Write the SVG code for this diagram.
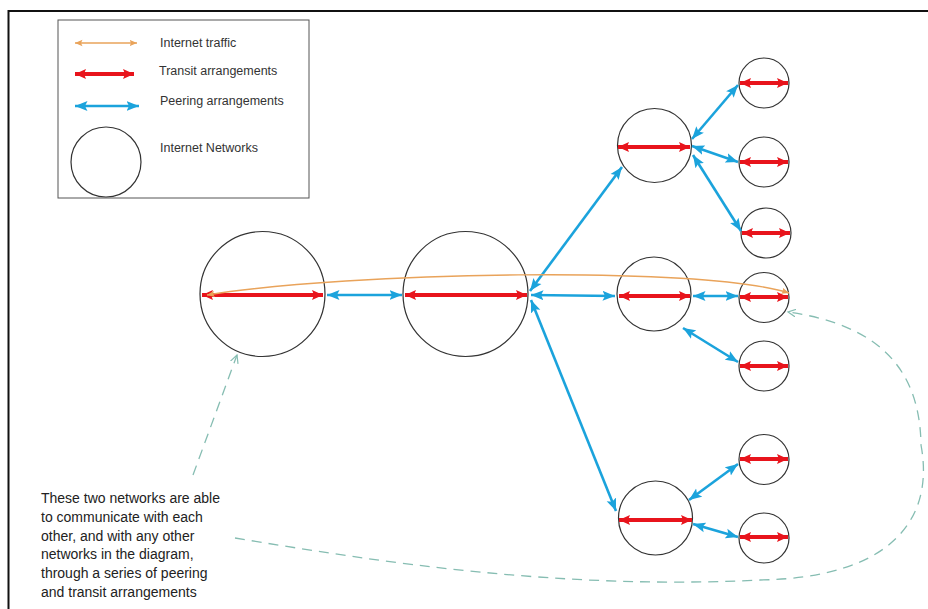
<svg xmlns="http://www.w3.org/2000/svg" width="928" height="609" viewBox="0 0 928 609">
<style>
.net{fill:#fff;stroke:#333;stroke-width:1.2}
.tr{stroke:#e8141c;stroke-width:4;fill:none;marker-start:url(#mr);marker-end:url(#mr)}
.pe{stroke:#1ba3dc;stroke-width:2.6;fill:none;marker-start:url(#mb);marker-end:url(#mb)}
.it{stroke:#e9a35a;stroke-width:1.4;fill:none;marker-start:url(#mo);marker-end:url(#mo)}
.dash{stroke:#86bdb2;stroke-width:1.3;fill:none;stroke-dasharray:10 7}
.lbl{font-family:"Liberation Sans",Arial,sans-serif;font-size:12.5px;fill:#333}
.note{font-family:"Liberation Sans",Arial,sans-serif;font-size:14px;fill:#222}
</style>
<defs>
<marker id="mr" markerUnits="userSpaceOnUse" markerWidth="12" markerHeight="12" viewBox="0 0 12 12" refX="11" refY="6" orient="auto-start-reverse"><path d="M0,1 L11,6 L0,11 L2,6 z" fill="#e8141c"/></marker>
<marker id="mb" markerUnits="userSpaceOnUse" markerWidth="13" markerHeight="11" viewBox="0 0 13 11" refX="12.5" refY="5.5" orient="auto-start-reverse"><path d="M0,0.5 L12.5,5.5 L0,10.5 L2.5,5.5 z" fill="#1ba3dc"/></marker>
<marker id="mo" markerUnits="userSpaceOnUse" markerWidth="8" markerHeight="8" viewBox="0 0 8 8" refX="7.5" refY="4" orient="auto-start-reverse"><path d="M0,0.8 L7.5,4 L0,7.2 L1.5,4 z" fill="#e9a35a"/></marker>
<marker id="mt" markerUnits="userSpaceOnUse" markerWidth="9" markerHeight="9" viewBox="0 0 9 9" refX="8" refY="4.5" orient="auto"><path d="M0,0.5 L8,4.5 L0,8.5" fill="none" stroke="#86bdb2" stroke-width="1.2"/></marker>
</defs>
<rect x="0" y="0" width="928" height="609" fill="#fff"/>
<rect x="8.5" y="11" width="1000" height="1000" fill="none" stroke="#111" stroke-width="2"/>

<g id="legend">
<rect x="58" y="20" width="251" height="178" fill="#fff" stroke="#555" stroke-width="1"/>
<line class="it" x1="75" y1="43" x2="137" y2="43"/>
<text class="lbl" x="160" y="47">Internet traffic</text>
<line class="tr" x1="75" y1="74" x2="134" y2="74"/>
<text class="lbl" x="159" y="75">Transit arrangements</text>
<line class="pe" x1="75" y1="106" x2="139" y2="106"/>
<text class="lbl" x="160" y="105">Peering arrangements</text>
<circle class="net" cx="106" cy="162" r="35"/>
<text class="lbl" x="160" y="152">Internet Networks</text>
</g>

<g id="netA"><circle class="net" cx="262.5" cy="294" r="62.5"/><line class="tr" x1="202" y1="295" x2="323" y2="295"/></g>
<g id="netB"><circle class="net" cx="465.5" cy="294" r="62.5"/><line class="tr" x1="405" y1="295" x2="527" y2="295"/></g>
<g id="netC1"><circle class="net" cx="654.5" cy="145.5" r="37"/><line class="tr" x1="618" y1="147" x2="690" y2="147"/></g>
<g id="netC2"><circle class="net" cx="654" cy="294" r="37"/><line class="tr" x1="619" y1="296" x2="690" y2="296"/></g>
<g id="netC3"><circle class="net" cx="655.5" cy="518" r="37"/><line class="tr" x1="619" y1="520" x2="692" y2="520"/></g>
<g id="netS1"><circle class="net" cx="764" cy="83" r="25"/><line class="tr" x1="740" y1="83" x2="788" y2="83"/></g>
<g id="netS2"><circle class="net" cx="764" cy="162" r="25"/><line class="tr" x1="740" y1="162" x2="788" y2="162"/></g>
<g id="netS3"><circle class="net" cx="766" cy="233" r="25"/><line class="tr" x1="742" y1="233" x2="790" y2="233"/></g>
<g id="netS4"><circle class="net" cx="764" cy="297.5" r="25"/><line class="tr" x1="740" y1="297" x2="788" y2="297"/></g>
<g id="netS5"><circle class="net" cx="764" cy="366" r="25"/><line class="tr" x1="740" y1="366" x2="788" y2="366"/></g>
<g id="netS6"><circle class="net" cx="764" cy="459.5" r="25"/><line class="tr" x1="740" y1="459" x2="788" y2="459"/></g>
<g id="netS7"><circle class="net" cx="764" cy="538" r="25"/><line class="tr" x1="740" y1="537" x2="788" y2="537"/></g>

<g id="connectors">
<line class="pe" x1="327" y1="295" x2="402" y2="295"/>
<line class="pe" x1="530" y1="291" x2="622" y2="167"/>
<line class="pe" x1="531" y1="295" x2="615" y2="296"/>
<line class="pe" x1="531" y1="300" x2="616" y2="511"/>
<line class="pe" x1="692" y1="139" x2="738" y2="85"/>
<line class="pe" x1="692" y1="146" x2="738" y2="162"/>
<line class="pe" x1="693" y1="155" x2="741" y2="231"/>
<line class="pe" x1="693" y1="296" x2="738" y2="296"/>
<line class="pe" x1="683" y1="328" x2="738" y2="362"/>
<line class="pe" x1="689" y1="500" x2="738" y2="464"/>
<line class="pe" x1="693" y1="524" x2="738" y2="537"/>
<path class="it" d="M207,295 C350,272 700,265 789,293"/>
<path class="dash" d="M193,475 L237,355" marker-end="url(#mt)"/>
<path class="dash" d="M235,538 C380,562 560,590 760,580 C890,578 935,520 921,445 C920,370 880,325 788,312" marker-end="url(#mt)"/>
</g>

<g id="note">
<text class="note" x="41" y="503">These two networks are able</text>
<text class="note" x="41" y="522">to communicate with each</text>
<text class="note" x="41" y="541">other, and with any other</text>
<text class="note" x="41" y="559">networks in the diagram,</text>
<text class="note" x="41" y="578">through a series of peering</text>
<text class="note" x="41" y="597">and transit arrangements</text>
</g>
</svg>
